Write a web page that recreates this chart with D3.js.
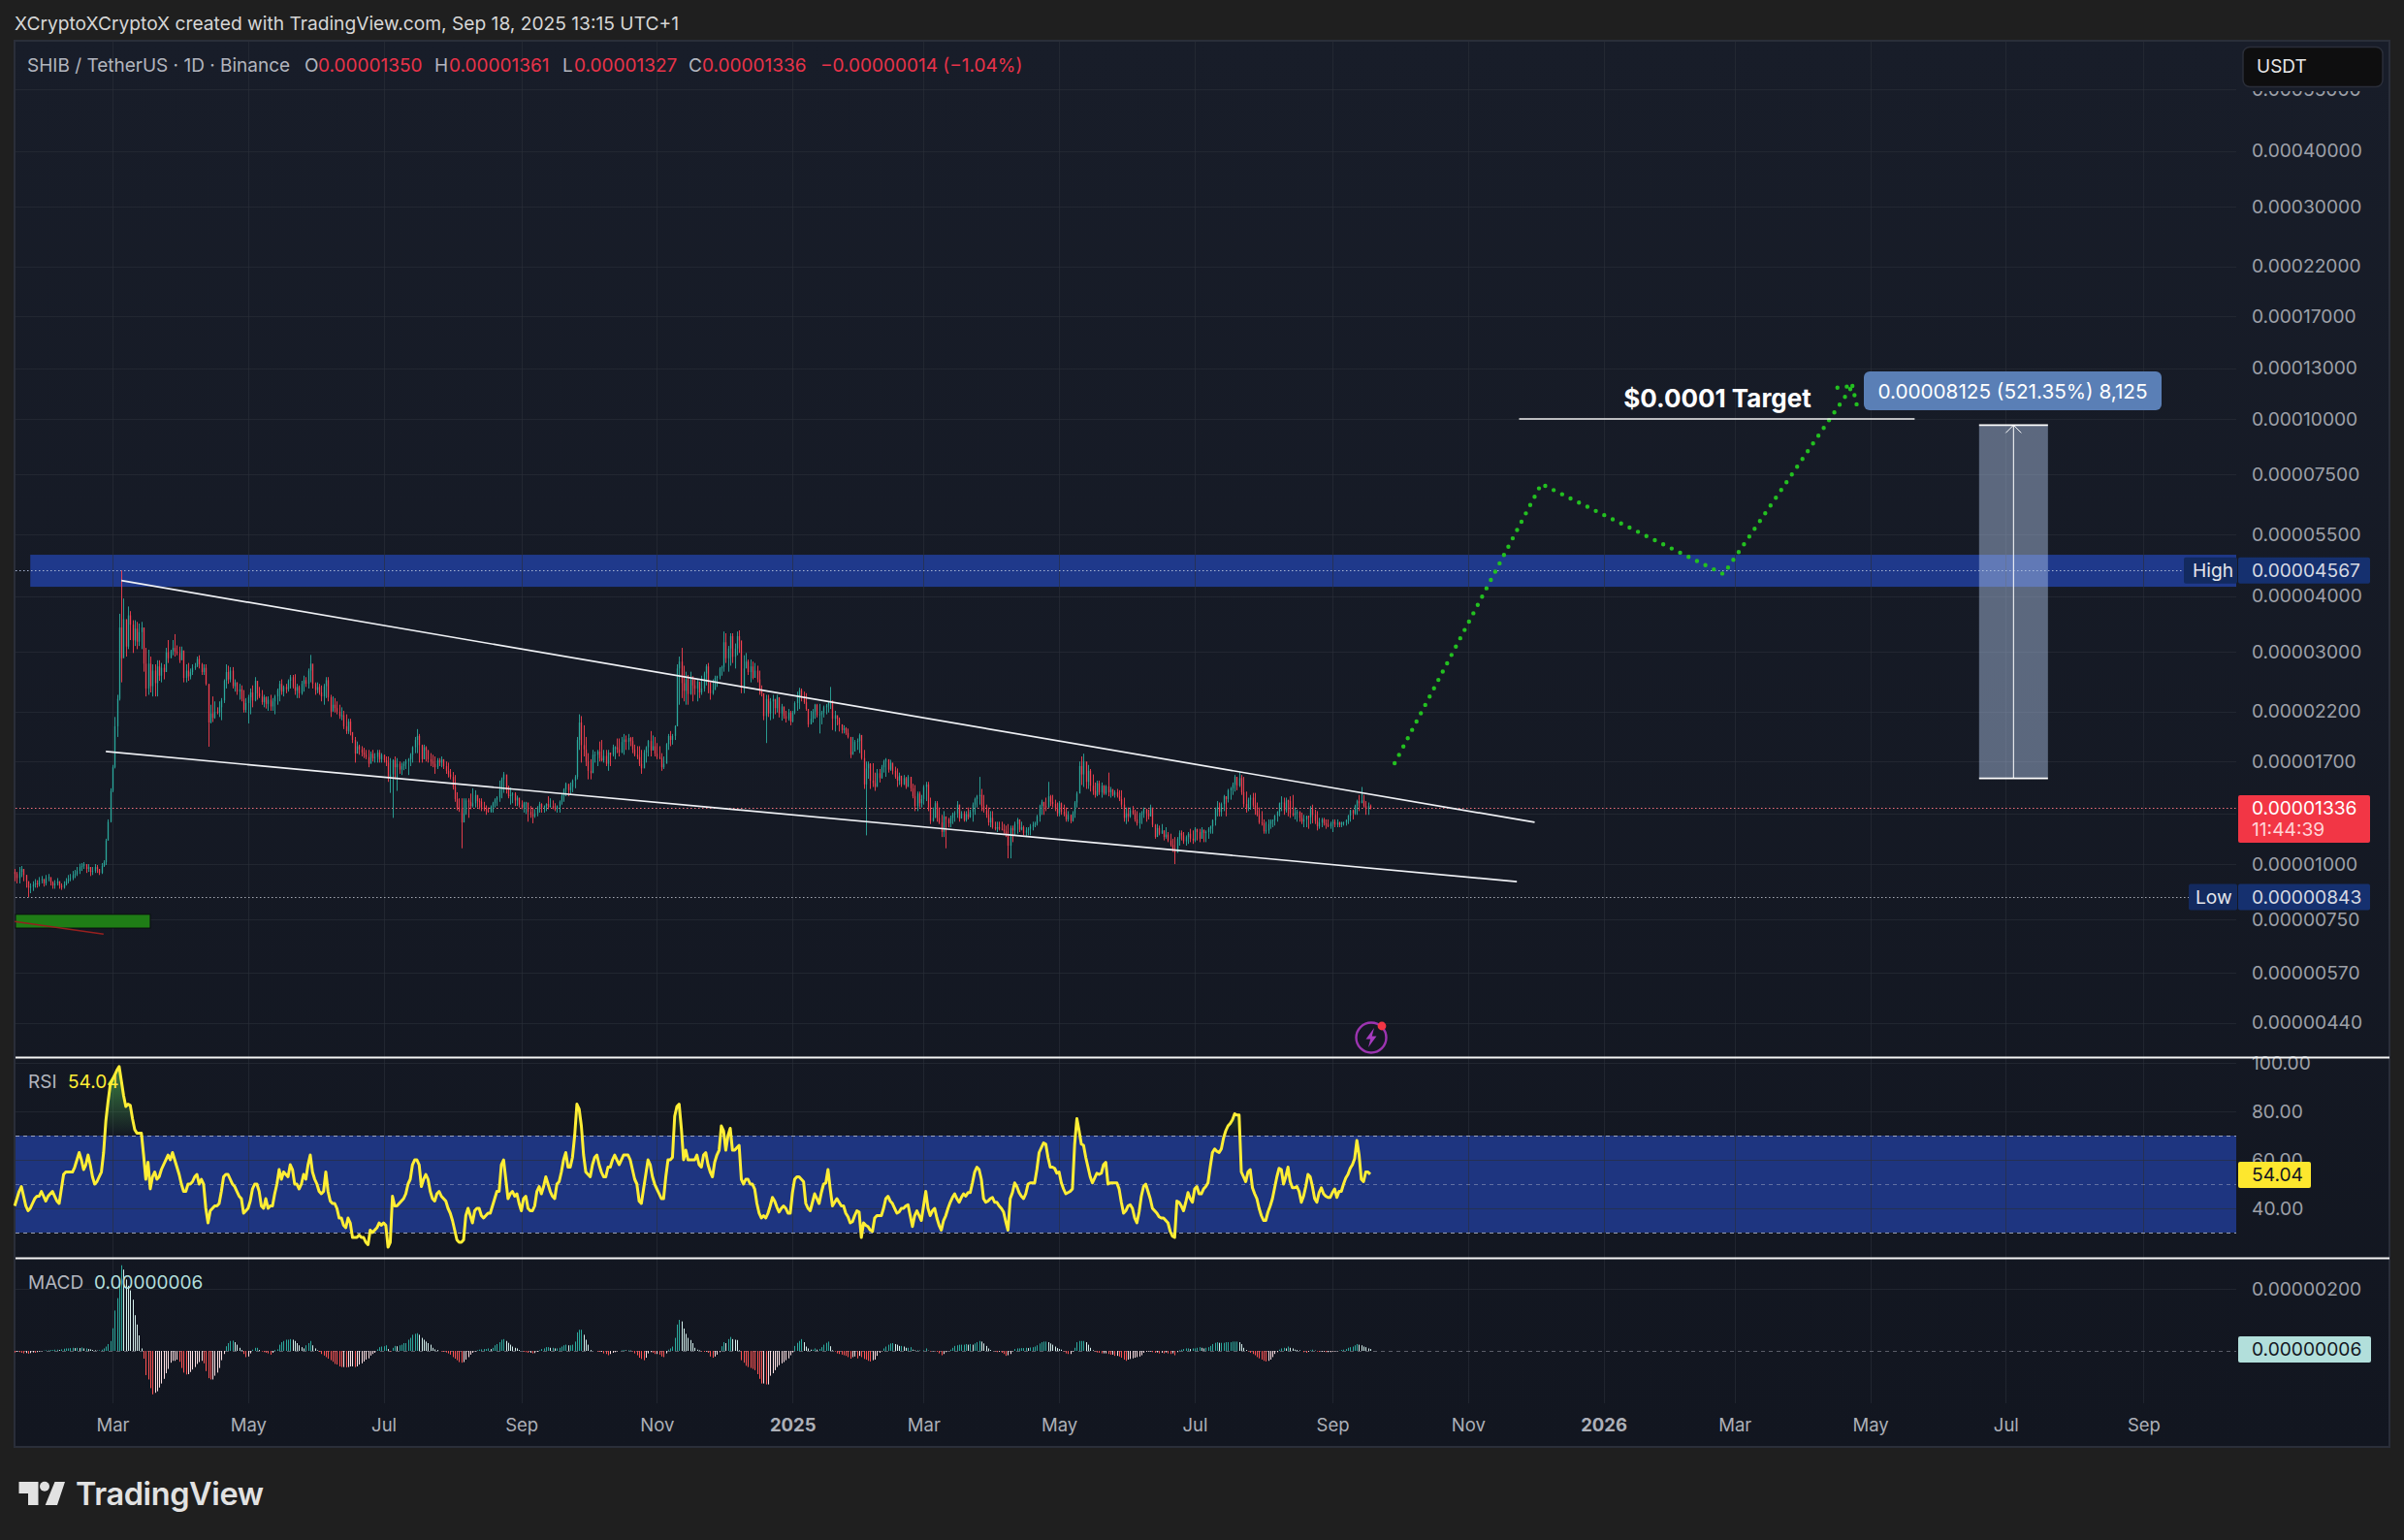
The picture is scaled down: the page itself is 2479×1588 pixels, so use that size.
<!DOCTYPE html>
<html>
<head>
<meta charset="utf-8">
<title>SHIB / TetherUS 1D</title>
<script src="https://cdn.jsdelivr.net/npm/d3@7"></script>
<style>
  html, body { margin: 0; background: #1f1f1f; }
  svg { display: block; font-family: Inter, "Noto Sans", sans-serif; }
</style>
</head>
<body>
<div id="chart"></div>
<script>
// Prices are in units of 0.00000001 USDT. One entry per daily bar, from 2024-01-17.
const firstDay = '2024-01-17';
const firstOpen = 960;

const highs = [
  975,960,985,990,965,945,915,905,915,925,
  920,935,940,925,945,950,930,915,920,930,
  915,905,915,930,945,950,965,970,985,1002,
  1005,1010,995,1000,985,985,1000,995,975,1005,
  1020,1140,1260,1480,1670,2140,2400,3650,4567,3950,
  3470,3790,3700,3530,3530,3500,3470,3500,3300,3060,
  3030,2925,2810,2810,2870,2870,2830,2810,3060,3186,
  3030,3186,3285,3100,3080,3080,2850,2810,2830,2750,
  2810,2830,2925,2945,2830,2810,2810,2520,2280,2380,
  2320,2250,2320,2360,2600,2810,2790,2770,2770,2600,
  2560,2540,2520,2460,2360,2400,2480,2520,2630,2560,
  2500,2460,2400,2380,2380,2400,2360,2400,2480,2580,
  2600,2520,2540,2600,2660,2660,2670,2540,2520,2580,
  2650,2630,2750,2950,2650,2560,2560,2540,2520,2540,
  2630,2630,2400,2380,2360,2320,2280,2250,2210,2170,
  2120,2120,1960,1930,1885,1855,1840,1825,1805,1805,
  1790,1805,1775,1805,1805,1775,1760,1745,1745,1730,
  1720,1745,1730,1700,1690,1700,1720,1730,1775,1840,
  1930,2010,1960,1855,1855,1840,1805,1775,1760,1745,
  1730,1730,1745,1720,1700,1690,1635,1610,1585,1450,
  1405,1405,1405,1405,1405,1440,1480,1465,1410,1405,
  1405,1380,1355,1340,1355,1380,1405,1420,1540,1565,
  1610,1550,1500,1485,1450,1450,1425,1405,1390,1380,
  1380,1370,1350,1340,1328,1350,1380,1370,1355,1370,
  1420,1405,1390,1370,1355,1390,1440,1480,1525,1500,
  1525,1550,1585,1930,2170,2150,2050,1930,1775,1720,
  1805,1790,1805,1885,1900,1805,1805,1805,1775,1855,
  1840,1915,1915,1930,1960,1945,1960,1930,1930,1855,
  1840,1840,1805,1805,1840,1900,1990,1945,1930,1870,
  1840,1775,1745,1870,1960,1990,1960,2050,2810,2925,
  3060,2790,2705,2660,2705,2630,2600,2600,2560,2650,
  2705,2810,2830,2560,2600,2650,2650,2770,2790,3330,
  3300,3090,3300,3300,3130,3330,3350,2980,2945,2980,
  2880,2880,2850,2830,2790,2720,2520,2400,2400,2400,
  2360,2400,2340,2400,2290,2290,2250,2210,2230,2210,
  2210,2320,2440,2490,2480,2440,2420,2230,2210,2230,
  2290,2290,2290,2210,2270,2290,2320,2500,2250,2210,
  2135,2135,2060,2050,2030,2015,1930,1930,1900,1915,
  1965,1865,1805,1700,1700,1685,1685,1605,1635,1635,
  1670,1715,1730,1715,1715,1685,1655,1640,1605,1570,
  1585,1570,1585,1570,1515,1505,1455,1455,1430,1505,
  1530,1530,1410,1340,1385,1385,1340,1290,1315,1270,
  1270,1285,1305,1315,1385,1360,1315,1315,1315,1340,
  1325,1375,1410,1430,1570,1475,1430,1360,1340,1315,
  1315,1245,1245,1245,1245,1230,1220,1230,1220,1220,
  1245,1270,1260,1245,1220,1210,1210,1230,1245,1245,
  1290,1360,1395,1360,1410,1530,1430,1430,1395,1375,
  1385,1375,1360,1340,1315,1290,1315,1385,1455,1700,
  1745,1770,1685,1670,1635,1590,1525,1540,1540,1525,
  1505,1505,1605,1490,1475,1465,1475,1465,1465,1410,
  1340,1340,1340,1350,1325,1315,1305,1315,1340,1315,
  1325,1360,1305,1230,1230,1220,1230,1190,1210,1180,
  1170,1140,1150,1150,1190,1190,1180,1160,1180,1200,
  1190,1210,1190,1200,1210,1190,1190,1210,1220,1260,
  1340,1385,1375,1375,1430,1420,1475,1490,1525,1585,
  1570,1610,1585,1570,1455,1410,1430,1445,1445,1375,
  1340,1315,1260,1245,1260,1260,1260,1290,1315,1375,
  1420,1410,1410,1395,1420,1430,1340,1325,1315,1305,
  1290,1285,1285,1350,1360,1325,1315,1270,1270,1270,
  1260,1260,1245,1260,1260,1260,1245,1245,1245,1260,
  1290,1325,1325,1360,1395,1430,1490,1430,1385,1375,
  1361,
];

const lows = [
  915,905,905,935,915,885,843,860,870,885,
  885,890,905,890,895,915,895,880,880,895,
  880,875,880,895,905,915,920,930,940,950,
  965,975,955,960,940,945,955,955,945,950,
  985,995,1130,1240,1450,1640,1930,2330,2560,3040,
  2925,3040,3186,2980,3090,3040,3090,3040,2705,2380,
  2400,2430,2380,2380,2380,2580,2560,2600,2720,2830,
  2925,2945,2925,2945,2830,2880,2560,2560,2580,2600,
  2660,2730,2770,2750,2660,2660,2520,1835,2070,2085,
  2120,2170,2140,2105,2300,2480,2540,2560,2480,2440,
  2400,2340,2320,2190,2190,2070,2170,2250,2320,2340,
  2360,2280,2250,2235,2210,2210,2210,2170,2280,2320,
  2400,2380,2420,2440,2480,2480,2400,2360,2360,2400,
  2440,2500,2480,2560,2480,2400,2420,2400,2320,2280,
  2360,2320,2140,2250,2190,2170,2120,2105,2010,1960,
  1960,1945,1870,1690,1775,1760,1745,1730,1720,1650,
  1720,1700,1690,1690,1690,1690,1690,1660,1530,1445,
  1270,1550,1460,1595,1585,1625,1635,1585,1660,1690,
  1775,1775,1690,1690,1720,1700,1690,1660,1650,1595,
  1635,1660,1650,1635,1595,1565,1550,1470,1380,1320,
  1310,1085,1270,1290,1270,1328,1340,1340,1340,1328,
  1315,1315,1290,1305,1305,1305,1340,1350,1380,1405,
  1445,1440,1405,1360,1370,1350,1350,1340,1328,1305,
  1295,1245,1270,1235,1270,1280,1305,1305,1305,1315,
  1328,1340,1328,1315,1305,1305,1360,1380,1420,1420,
  1430,1450,1480,1550,1805,1690,1745,1660,1550,1550,
  1610,1690,1660,1700,1700,1690,1660,1620,1660,1745,
  1720,1775,1745,1775,1760,1805,1805,1840,1775,1745,
  1720,1660,1595,1690,1690,1745,1745,1805,1745,1720,
  1720,1620,1635,1720,1805,1840,1855,1900,2040,2280,
  2360,2320,2280,2280,2400,2320,2400,2320,2360,2400,
  2440,2520,2420,2340,2400,2520,2500,2600,2650,2705,
  2830,2705,2790,2830,2750,2945,2980,2420,2420,2790,
  2660,2560,2600,2680,2560,2400,2380,2105,1870,2140,
  2105,2120,2170,2190,2135,2100,2120,2080,2100,2050,
  2080,2170,2210,2230,2320,2290,2210,2030,2100,2080,
  2120,2135,1965,2060,2135,2170,2190,2230,2000,1985,
  2050,1985,1965,1965,1950,1915,1730,1775,1790,1805,
  1775,1715,1475,1160,1555,1475,1490,1460,1505,1525,
  1555,1605,1570,1605,1620,1590,1555,1490,1505,1490,
  1505,1475,1505,1455,1405,1315,1315,1340,1340,1360,
  1385,1315,1230,1245,1270,1245,1230,1150,1150,1085,
  1210,1210,1230,1245,1270,1245,1270,1245,1245,1260,
  1270,1245,1290,1340,1360,1315,1305,1270,1220,1210,
  1200,1190,1180,1190,1190,1170,1150,1030,1030,1120,
  1160,1170,1180,1190,1160,1150,1160,1160,1190,1210,
  1220,1245,1290,1290,1315,1340,1350,1340,1315,1280,
  1280,1290,1280,1245,1245,1235,1245,1270,1340,1475,
  1505,1490,1475,1475,1455,1430,1410,1420,1430,1410,
  1430,1430,1420,1410,1420,1410,1410,1385,1340,1245,
  1230,1245,1270,1290,1245,1220,1200,1230,1270,1245,
  1260,1280,1210,1140,1170,1160,1170,1130,1140,1120,
  1095,1065,1000,1075,1100,1130,1110,1100,1110,1120,
  1110,1120,1130,1120,1140,1120,1120,1140,1170,1170,
  1220,1280,1280,1280,1315,1280,1375,1395,1430,1455,
  1465,1490,1430,1340,1305,1315,1325,1340,1290,1280,
  1230,1220,1170,1170,1170,1200,1210,1220,1245,1280,
  1315,1290,1305,1280,1270,1280,1260,1245,1245,1230,
  1210,1210,1200,1230,1235,1230,1190,1200,1210,1220,
  1200,1210,1200,1180,1210,1210,1210,1210,1220,1220,
  1230,1245,1260,1290,1290,1315,1375,1340,1290,1290,
  1327,
];

const closes = [
  950,930,960,975,945,915,885,890,900,905,
  900,920,925,905,930,935,910,895,905,915,
  895,885,900,915,925,930,945,950,965,985,
  990,1000,975,985,960,965,985,975,955,990,
  1010,1130,1245,1460,1650,2040,2350,3400,2900,3550,
  3080,3620,3450,3180,3380,3160,3320,3400,2820,2480,
  2820,2510,2720,2550,2780,2650,2760,2700,2990,2900,
  3010,3060,3000,2980,2870,3020,2620,2720,2640,2700,
  2760,2780,2890,2810,2700,2760,2540,2080,2180,2130,
  2200,2190,2250,2330,2580,2700,2600,2720,2510,2560,
  2440,2470,2350,2220,2300,2370,2430,2330,2580,2420,
  2380,2310,2370,2290,2340,2260,2320,2380,2460,2540,
  2440,2500,2470,2580,2630,2500,2450,2500,2420,2540,
  2590,2540,2720,2820,2540,2460,2500,2430,2380,2510,
  2590,2370,2200,2280,2240,2200,2150,2160,2040,1990,
  2090,1980,1900,1770,1840,1810,1780,1760,1740,1680,
  1770,1730,1740,1780,1720,1760,1710,1690,1570,1590,
  1710,1650,1680,1630,1660,1680,1700,1720,1760,1830,
  1900,1940,1850,1720,1830,1800,1720,1700,1680,1650,
  1710,1690,1720,1660,1620,1590,1570,1490,1400,1340,
  1330,1240,1300,1390,1380,1350,1370,1430,1385,1380,
  1340,1330,1320,1310,1345,1370,1395,1410,1470,1550,
  1590,1470,1420,1430,1440,1390,1410,1360,1340,1370,
  1375,1310,1290,1280,1300,1340,1365,1340,1350,1365,
  1345,1350,1335,1330,1350,1380,1425,1470,1515,1465,
  1490,1540,1570,1900,2080,1850,1810,1700,1620,1600,
  1760,1760,1790,1730,1710,1750,1680,1780,1760,1830,
  1830,1810,1780,1880,1905,1880,1920,1890,1810,1760,
  1740,1680,1640,1780,1830,1890,1800,1840,1770,1740,
  1730,1650,1680,1860,1940,1900,1940,2040,2750,2850,
  2550,2450,2600,2410,2640,2520,2480,2570,2430,2480,
  2680,2780,2560,2420,2460,2620,2640,2750,2770,3150,
  2900,3050,3250,2920,3050,3250,3180,2500,2750,2850,
  2700,2780,2620,2720,2600,2450,2420,2150,2350,2180,
  2320,2350,2240,2370,2180,2260,2150,2120,2190,2090,
  2190,2300,2380,2460,2380,2310,2230,2060,2120,2200,
  2280,2160,2170,2190,2250,2270,2310,2330,2120,2160,
  2120,2060,2000,2020,1970,1930,1760,1790,1880,1890,
  1950,1730,1510,1640,1680,1540,1520,1490,1600,1560,
  1650,1700,1720,1630,1690,1620,1570,1540,1580,1510,
  1560,1490,1570,1480,1420,1350,1440,1370,1400,1490,
  1510,1340,1250,1270,1370,1270,1240,1180,1280,1260,
  1235,1270,1295,1300,1360,1265,1300,1255,1295,1275,
  1310,1360,1400,1420,1430,1350,1320,1290,1240,1270,
  1210,1200,1210,1200,1195,1185,1165,1100,1205,1190,
  1230,1260,1195,1210,1175,1190,1200,1215,1225,1235,
  1280,1350,1380,1350,1340,1420,1380,1365,1330,1300,
  1370,1310,1295,1260,1290,1250,1300,1375,1440,1660,
  1590,1700,1530,1620,1500,1460,1430,1520,1450,1500,
  1440,1495,1450,1470,1430,1450,1420,1400,1360,1270,
  1300,1280,1320,1300,1260,1235,1290,1300,1330,1300,
  1280,1340,1225,1150,1205,1170,1190,1150,1165,1130,
  1105,1080,1060,1140,1175,1160,1125,1150,1170,1140,
  1130,1200,1180,1140,1195,1175,1180,1200,1215,1255,
  1330,1340,1310,1365,1420,1400,1465,1480,1510,1570,
  1500,1560,1450,1365,1330,1395,1410,1355,1320,1290,
  1240,1235,1185,1190,1230,1250,1255,1285,1310,1370,
  1375,1320,1390,1385,1300,1290,1300,1310,1270,1245,
  1260,1280,1275,1330,1290,1250,1215,1240,1260,1235,
  1225,1215,1235,1245,1225,1240,1225,1240,1240,1255,
  1285,1320,1300,1350,1385,1370,1390,1350,1330,1350,
  1336,
];

const rsiValues = [
  41,44,47,49,45,41,39,40,42,44,
  45,45,47,45,43,45,46,47,45,43,
  42,48,54,55,55,55,55,57,60,63,
  60,56,58,62,58,53,50,51,53,55,
  63,76,84,91,93,95,97,98.5,92.5,86.5,
  82,83,82.5,77,72.5,71,71,71,62,52,
  59,48,53,55,52,53,56,58,60,62,
  60,63,60,57,54,50,47,47,50,50,
  51,53,54,50,52,50,40,34,39,40,
  41,41,42,47,53,54,54,52,50,49,
  47,45,44,38,39,40,43,48,50,50,
  47,41,40,44,40,41,41,46,50,56,
  52,55,54,53,58,56,50,50,48,50,
  54,52,58,62,55,52,50,47,46,47,
  55,47,43,42,42,40,36,36,33,32,
  36,34,28,28,28,29,28,28,26,25,
  31,30,31,32,34,33,34,33,24,26,
  45,41,41,42,43,44,46,50,52,58,
  60,60,58,49,52,54,52,47,44,43,
  46,47,45,44,43,40,38,35,31,27,
  26,26,27,37,40,37,34,39,40,40,
  37,36,37,38,38,41,44,47,47,58,
  60,52,44,46,47,45,46,42,39,44,
  45,40,39,39,41,47,49,46,49,53,
  50,47,45,44,50,51,55,60,63,57,
  57,61,70,83,81,74,62,55,54,53,
  58,61,62,58,55,53,53,57,57,60,
  62,60,58,60,62,62,62,60,56,52,
  50,43,42,48,54,60,58,53,50,48,
  46,44,44,53,60,60,61,78,82,83,
  73,60,64,60,60,60,60,62,58,57,
  62,63,58,55,53,59,62,64,74,72,
  64,70,73,64,64,65,66,52,50,52,
  52,50,50,48,42,38,36,37,36,38,
  41,44.5,43,40.5,38.5,40,41,40,38,38,
  46.5,52,53,53,52,51,42,40,39,42.5,
  46,44,42,46.5,50,50.5,56,48,41,42.5,
  44,42.5,41,41,38,36.5,34,34.5,37,39,
  38.5,28,34,33,32.5,31,30.5,36,37,37,
  37,40,44,45,43,42,40,38,38.5,40,
  40,41,41.5,37,32.5,37,39,37,35,41,
  47,40,37,39,40,36,33,31,35,37,
  40,42.5,44.5,46,44,42.5,44.5,46,45,46.5,
  46.5,50.5,55,57,56,52,44,42.5,43,44,
  44.5,42.5,42.5,41,40,38.5,34.5,31,44,46.5,
  50.5,49,46.5,45,44,46,50,50.5,50.5,50.5,
  56,63,65,67,66.5,61,57,57,56.5,54.5,
  55,50.5,48,46,46.5,47,48,66.5,77,72,
  66.5,66,61,57,53,50.5,52.5,54.5,54,54.5,
  58,59,50,50.5,50.5,50.5,50.5,48,42.5,38,
  39,41,41.5,40,36,34,38.5,45,49,50,
  47,44,40,39,38,36.5,36,36,35,34,
  30.5,28.5,28,43,42.5,41,39,42.5,46.5,44,
  42.5,48,49,46,46,48,49,50.5,57,63,
  64.5,63.5,63,64.5,69,72,74,75,76.5,79,
  78.5,78.5,55,53,51,55,56,48.5,46,44,
  40,37,35,35,38.5,41,44,48.5,53,56.5,
  56,50,53,57,51,48.5,48.5,49,47,42.5,
  45,49,54,53,49,44,42.5,46.5,48.5,46,
  45,44.5,44.5,46.5,48,44.5,47,47,50,52.5,
  54,56.5,58,60.5,68,62,52,51,55,55,
  54.04,
];

const macdValues = [
  -5,-3,-4,-6,-8,-7,-9,-7,-5,-6,
  -4,-2,-1,1,2,2,3,3,4,4,
  3,5,7,8,8,9,10,9,10,9,
  11,8,8,6,5,3,2,1,2,4,
  8,14,22,32,73,130,170,230,276,262,
  230,210,195,165,115,85,50,8,-25,-78,
  -92,-120,-140,-135,-130,-118,-105,-90,-72,-58,
  -38,-32,-32,-28,-35,-55,-70,-76,-75,-68,
  -60,-52,-42,-36,-32,-40,-65,-88,-92,-92,
  -80,-70,-55,-30,-10,15,25,32,33,28,
  20,10,3,-10,-20,-18,-8,4,10,10,
  3,-2,-4,-6,-8,-12,-6,3,5,20,
  28,32,36,36,38,36,32,25,18,12,
  8,18,25,32,18,8,2,-3,-10,-15,
  -20,-25,-30,-35,-42,-44,-50,-52,-52,-53,
  -52,-50,-50,-52,-50,-44,-40,-34,-28,-24,
  -15,-10,-6,5,12,14,15,18,6,-2,
  10,16,15,18,20,25,25,36,42,52,
  55,57,52,42,36,30,25,20,10,5,
  3,0,-2,-3,-5,-8,-12,-20,-25,-30,
  -36,-38,-36,-28,-20,-12,-6,-2,2,4,
  5,6,6,8,6,10,18,22,28,36,
  38,32,26,20,14,10,8,3,0,-3,
  -4,-6,-6,-8,-7,-3,2,6,8,12,
  12,10,10,8,8,10,14,18,20,18,
  18,20,30,60,68,68,52,36,20,3,
  0,0,-2,-3,-3,-8,-10,-14,-10,-6,
  -4,-2,0,2,3,2,2,1,-2,-8,
  -14,-22,-26,-30,-22,-8,-4,-6,-10,-10,
  -12,-18,-20,-8,4,8,14,42,85,100,
  95,72,55,42,35,25,10,4,2,-2,
  -3,-2,-6,-18,-22,-18,-12,-4,15,28,
  25,38,45,38,36,35,2,-30,-38,-48,
  -52,-55,-58,-62,-75,-90,-105,-105,-108,-108,
  -80,-72,-62,-52,-46,-40,-36,-30,-24,-14,
  -5,16,26,32,38,28,14,8,4,4,
  8,4,6,12,20,26,30,15,2,-2,
  -8,-10,-12,-14,-16,-20,-25,-20,-18,-24,
  -16,-20,-26,-28,-32,-34,-30,-28,-16,-6,
  -2,8,14,20,24,25,22,20,16,16,
  14,10,10,12,4,2,2,1,0,2,
  8,1,-2,-1,-1,-3,-8,-14,-10,-4,
  0,4,10,16,18,20,20,20,22,20,
  22,20,24,28,32,30,24,16,8,3,
  0,-2,-4,-3,-6,-10,-16,-14,-10,-2,
  6,8,8,9,9,10,9,11,12,14,
  18,24,28,30,30,28,24,20,14,9,
  6,4,-2,-8,-10,-10,-2,10,28,32,
  32,32,28,20,10,2,-2,-5,-6,-8,
  -8,-8,-10,-12,-12,-16,-16,-18,-22,-28,
  -32,-28,-26,-24,-22,-20,-18,-14,-6,-3,
  -2,-2,-4,-6,-5,-8,-6,-8,-5,-8,
  -10,-8,-14,-4,2,4,6,8,8,6,
  8,8,10,12,10,8,10,12,16,22,
  26,28,26,26,26,28,28,28,30,30,
  30,28,22,10,3,-2,-6,-10,-14,-20,
  -24,-28,-32,-34,-32,-28,-20,-10,-4,4,
  8,10,8,14,10,8,4,3,2,0,
  -4,-6,-3,2,4,1,-2,-3,-3,-3,
  -4,-4,-4,-3,-2,-1,1,3,4,6,
  10,12,14,18,22,20,18,14,12,8,
  6,
];

// 1300 has a grid line, but its label is hidden behind the last-price tag
const priceTicks = [55000, 40000, 30000, 22000, 17000, 13000, 10000, 7500, 5500, 4000, 3000, 2200, 1700, 1000, 750, 570, 440];
const priceGridOnly = [1300];
const rsiTicks = [100, 80, 60, 40];
const macdTicks = [200, 0];
const timeTicks = ['2024-03-01', '2024-05-01', '2024-07-01', '2024-09-01', '2024-11-01', '2025-01-01', '2025-03-01', '2025-05-01', '2025-07-01', '2025-09-01', '2025-11-01', '2026-01-01', '2026-03-01', '2026-05-01', '2026-07-01', '2026-09-01'];

const lastPrice = 1336;
const allHigh = 4567;
const allLow = 843;
const zoneTop = 4953;
const zoneBottom = 4197;
const upperTrend = [['2024-03-05', 4334], ['2025-12-01', 1241]];
const lowerTrend = [['2024-02-27', 1790], ['2025-11-23', 913]];
const forecast = [['2025-09-29', 1685], ['2025-12-04', 7145], ['2026-02-24', 4480], ['2026-04-23', 11860], ['2026-04-15', 11740]];
const forecastTail = [['2026-04-23', 11860], ['2026-04-25', 10727]];
const targetLine = [['2025-11-24', 10000], ['2026-05-21', 10000]];
const measureDates = ['2026-06-19', '2026-07-20'];
const measureFrom = 1558;
const measureTo = 9683;
const greenBox = { dates: ['2024-01-17', '2024-03-18'], prices: [771, 718] };
const redSlope = [['2024-01-17', 743], ['2024-02-26', 696]];

const legendParts = [
  ['SHIB / TetherUS · 1D · Binance', 28, 'label'], ['O', 314, 'label'], ['0.00001350', 328, 'value'],
  ['H', 448, 'label'], ['0.00001361', 463, 'value'], ['L', 580, 'label'], ['0.00001327', 592, 'value'],
  ['C', 710, 'label'], ['0.00001336', 724, 'value'], ['−0.00000014 (−1.04%)', 846, 'value'],
];

const W = 2479, H = 1588;
const paneLeft = 16, axisLeft = 2306, frameRight = 2463, frameTop = 43, frameBottom = 1491;
const gridBottom = 1447;
const axisFont = 19.2;
const day = (s) => new Date(`${s}T00:00:00Z`);
const fmtP = (v) => (v * 1e-8).toFixed(8);

const x = d3.scaleUtc().domain([day('2024-03-01'), day('2025-09-01')]).range([116, 1374]);
const y = d3.scaleLog().domain([10000, 1000]).range([432, 891]);
const yRsi = d3.scaleLinear().domain([100, 40]).range([1096, 1246]);
const yMacd = d3.scaleLinear().domain([200, 0]).range([1329, 1393]);
const snap = (v) => Math.round(v) + 0.5;

const bars = closes.map((c, i) => {
  const date = d3.utcDay.offset(day(firstDay), i);
  return { date, close: c, open: i ? closes[i - 1] : firstOpen, high: highs[i], low: lows[i], rsi: rsiValues[i], macd: macdValues[i], prev: i ? macdValues[i - 1] : 0 };
});

const svg = d3.select('#chart').append('svg').attr('width', W).attr('height', H);
const defs = svg.append('defs');

const bg = defs.append('linearGradient').attr('id', 'paneBg').attr('x1', 0).attr('x2', 0).attr('y1', 0).attr('y2', 1);
bg.append('stop').attr('offset', 0).attr('stop-color', '#181d29');
bg.append('stop').attr('offset', 1).attr('stop-color', '#121620');

const overbought = defs.append('linearGradient').attr('id', 'overbought').attr('gradientUnits', 'userSpaceOnUse')
  .attr('x1', 0).attr('x2', 0).attr('y1', yRsi(100)).attr('y2', yRsi(70));
overbought.append('stop').attr('offset', 0).attr('stop-color', '#4caf50').attr('stop-opacity', 0.75);
overbought.append('stop').attr('offset', 1).attr('stop-color', '#4caf50').attr('stop-opacity', 0);

svg.append('rect').attr('x', paneLeft - 1).attr('y', frameTop - 1).attr('width', frameRight - paneLeft + 2).attr('height', frameBottom - frameTop + 2)
  .attr('fill', 'url(#paneBg)').attr('stroke', '#2a2e39').attr('stroke-width', 2);

// Header
svg.append('text').attr('x', 15).attr('y', 31).attr('fill', '#d6d6d6').attr('font-size', 19.2)
  .text('XCryptoXCryptoX created with TradingView.com, Sep 18, 2025 13:15 UTC+1');

// Zones sit under the grid, the grid shows faintly through them
svg.append('rect').attr('x', x(day('2024-01-24'))).attr('y', y(zoneTop)).attr('width', axisLeft - x(day('2024-01-24')))
  .attr('height', y(zoneBottom) - y(zoneTop)).attr('fill', '#1f398b');
svg.append('rect').attr('x', paneLeft).attr('y', yRsi(70)).attr('width', axisLeft - paneLeft)
  .attr('height', yRsi(30) - yRsi(70)).attr('fill', '#1e3580');

const grid = svg.append('g').attr('stroke', '#2a2e39').attr('stroke-opacity', 0.62).attr('stroke-width', 1);
grid.selectAll('.v').data(timeTicks).join('line').attr('class', 'v')
  .attr('x1', (d) => snap(x(day(d)))).attr('x2', (d) => snap(x(day(d))))
  .attr('y1', frameTop).attr('y2', gridBottom);
const hLines = [...priceTicks, ...priceGridOnly].map((d) => y(d)).concat(rsiTicks.map((d) => yRsi(d)), macdTicks.slice(0, 1).map((d) => yMacd(d)));
grid.selectAll('.h').data(hLines).join('line').attr('class', 'h')
  .attr('x1', paneLeft).attr('x2', axisLeft).attr('y1', snap).attr('y2', snap);

// Stats lines
const dotted = (val, color) => svg.append('line').attr('x1', paneLeft).attr('x2', axisLeft)
  .attr('y1', snap(y(val))).attr('y2', snap(y(val)))
  .attr('stroke', color).attr('stroke-width', 1).attr('stroke-dasharray', '1.5 2.5');
dotted(allHigh, '#a9b6d4');
dotted(allLow, '#a4a8b2');
dotted(lastPrice, '#f0707b');

// Small strategy box at far left
svg.append('rect').attr('x', paneLeft).attr('y', y(greenBox.prices[0]))
  .attr('width', x(day(greenBox.dates[1])) - paneLeft).attr('height', y(greenBox.prices[1]) - y(greenBox.prices[0]))
  .attr('fill', '#1f7d16').attr('stroke', '#0a0c10').attr('stroke-width', 1);
const ptLine = d3.line().x((d) => x(day(d[0]))).y((d) => y(d[1]));
svg.append('path').attr('d', ptLine(redSlope)).attr('fill', 'none').attr('stroke', '#96201f').attr('stroke-width', 1.5);

// Candles: at this zoom a bar is one pixel wide, so wick and body share a column
const candleColor = (d) => (d.close >= d.open ? '#2ba89c' : '#f5404f');
const candles = svg.append('g');
candles.selectAll('line').data(bars).join('line')
  .attr('x1', (d) => snap(x(d.date))).attr('x2', (d) => snap(x(d.date)))
  .attr('y1', (d) => y(d.high)).attr('y2', (d) => y(d.low))
  .attr('stroke', candleColor).attr('stroke-opacity', 0.9).attr('stroke-width', 1);
candles.selectAll('rect').data(bars).join('rect')
  .attr('x', (d) => snap(x(d.date)) - 0.65).attr('width', 1.3)
  .attr('y', (d) => Math.min(y(d.open), y(d.close)))
  .attr('height', (d) => Math.max(1, Math.abs(y(d.open) - y(d.close))))
  .attr('fill', candleColor);

// Drawings
const trend = (pts) => svg.append('path').attr('d', ptLine(pts)).attr('fill', 'none').attr('stroke', '#eef0f4').attr('stroke-width', 1.7);
trend(upperTrend);
trend(lowerTrend);

const dots = (pts) => svg.append('path').attr('d', ptLine(pts)).attr('fill', 'none')
  .attr('stroke', '#23c020').attr('stroke-width', 4.4).attr('stroke-linecap', 'round').attr('stroke-dasharray', '0 9.7');
dots(forecast);
dots(forecastTail);

svg.append('path').attr('d', ptLine(targetLine)).attr('stroke', '#f2f2f2').attr('stroke-width', 1.5).attr('fill', 'none');
svg.append('text').attr('x', 1771).attr('y', 420).attr('text-anchor', 'middle').attr('fill', '#ffffff')
  .attr('font-size', 26).attr('font-weight', 700).text('$0.0001 Target');

// Price range measure
const mx0 = x(day(measureDates[0])), mx1 = x(day(measureDates[1])), mxc = (mx0 + mx1) / 2;
svg.append('rect').attr('x', mx0).attr('y', y(measureTo)).attr('width', mx1 - mx0).attr('height', y(measureFrom) - y(measureTo))
  .attr('fill', 'rgb(178,200,235)').attr('fill-opacity', 0.45);
[measureTo, measureFrom].forEach((v) => svg.append('line').attr('x1', mx0).attr('x2', mx1).attr('y1', y(v)).attr('y2', y(v)).attr('stroke', '#fff').attr('stroke-width', 1.6));
svg.append('line').attr('x1', mxc).attr('x2', mxc).attr('y1', y(measureFrom)).attr('y2', y(measureTo)).attr('stroke', '#fff').attr('stroke-width', 1);
svg.append('path').attr('d', `M${mxc - 8},${y(measureTo) + 8}L${mxc},${y(measureTo)}L${mxc + 8},${y(measureTo) + 8}`)
  .attr('fill', 'none').attr('stroke', '#fff').attr('stroke-width', 1);
svg.append('rect').attr('x', 1922).attr('y', 383).attr('width', 307).attr('height', 40).attr('rx', 6).attr('fill', '#5a7fb6');
svg.append('text').attr('x', 2075.5).attr('y', 410.5).attr('text-anchor', 'middle').attr('fill', '#fff').attr('font-size', 20.7)
  .text('0.00008125 (521.35%) 8,125');

// Lightning badge
const bolt = svg.append('g').attr('transform', 'translate(1414,1070)');
bolt.append('circle').attr('r', 15.5).attr('fill', 'none').attr('stroke', '#9c34b0').attr('stroke-width', 2.4);
bolt.append('path').attr('d', 'M3,-10L-5.5,1.5L-0.8,1.5L-3,10L5.5,-1.5L0.8,-1.5Z').attr('fill', '#a63bc0');
bolt.append('circle').attr('cx', 11).attr('cy', -12).attr('r', 4.4).attr('fill', '#f23645');

// RSI
const rsiPane = svg.append('g');
rsiPane.append('path').datum(bars)
  .attr('d', d3.area().x((d) => x(d.date)).y0(yRsi(70)).y1((d) => yRsi(Math.max(d.rsi, 70))))
  .attr('fill', 'url(#overbought)');
[70, 50, 30].forEach((v) => rsiPane.append('line').attr('x1', paneLeft).attr('x2', axisLeft)
  .attr('y1', snap(yRsi(v))).attr('y2', snap(yRsi(v)))
  .attr('stroke', '#c5cad6').attr('stroke-opacity', v === 50 ? 0.4 : 0.75).attr('stroke-dasharray', '4 4'));
rsiPane.append('path').datum(bars)
  .attr('d', d3.line().x((d) => x(d.date)).y((d) => yRsi(d.rsi)))
  .attr('fill', 'none').attr('stroke', '#ffee35').attr('stroke-width', 3).attr('stroke-linejoin', 'round');

// MACD histogram
svg.append('line').attr('x1', paneLeft).attr('x2', axisLeft).attr('y1', snap(yMacd(0))).attr('y2', snap(yMacd(0)))
  .attr('stroke', '#787b86').attr('stroke-opacity', 0.7).attr('stroke-dasharray', '4 4');
const macdColor = (d) => (d.macd >= 0
  ? (d.macd >= d.prev ? '#2ba89c' : '#d4efec')
  : (d.macd < d.prev ? '#ff5252' : '#ffe0e2'));
svg.append('g').selectAll('rect').data(bars).join('rect')
  .attr('x', (d) => Math.round(x(d.date))).attr('width', 1)
  .attr('y', (d) => Math.min(yMacd(d.macd), yMacd(0)))
  .attr('height', (d) => Math.abs(yMacd(d.macd) - yMacd(0)))
  .attr('fill', macdColor);

// Axes
const axisStyle = (g, color, size) => {
  g.select('.domain').remove();
  g.selectAll('.tick line').remove();
  g.selectAll('.tick text').attr('fill', color).attr('font-size', size).attr('font-family', 'Inter, sans-serif');
};
svg.append('g').attr('transform', `translate(${axisLeft},0)`)
  .call(d3.axisRight(y).tickValues(priceTicks).tickFormat(fmtP).tickSize(0).tickPadding(16))
  .call(axisStyle, '#9da0a8', axisFont);
svg.append('g').attr('transform', `translate(${axisLeft},0)`)
  .call(d3.axisRight(yRsi).tickValues(rsiTicks).tickFormat((d) => d.toFixed(2)).tickSize(0).tickPadding(16))
  .call(axisStyle, '#9da0a8', axisFont);
svg.append('g').attr('transform', `translate(${axisLeft},0)`)
  .call(d3.axisRight(yMacd).tickValues([200]).tickFormat(fmtP).tickSize(0).tickPadding(16))
  .call(axisStyle, '#9da0a8', axisFont);
svg.append('g').attr('transform', 'translate(0,1470)')
  .call(d3.axisBottom(x).tickValues(timeTicks.map(day)).tickSize(0).tickPadding(0)
    .tickFormat((d) => (d.getUTCMonth() === 0 ? d3.utcFormat('%Y')(d) : d3.utcFormat('%b')(d))))
  .call(axisStyle, '#adb0b8', 18.5)
  .call((g) => g.selectAll('.tick text').attr('dy', '0.32em').attr('font-weight', (d) => (d.getUTCMonth() === 0 ? 700 : 400)));

// Pane separators
[1090, 1297].forEach((py) => svg.append('line').attr('x1', paneLeft).attr('x2', frameRight + 1).attr('y1', py + 0.5).attr('y2', py + 0.5)
  .attr('stroke', '#f4f4f4').attr('stroke-width', 1.8));

// Axis badges
const badge = (bx, by, bw, bh, fill, txt, tx, color) => {
  svg.append('rect').attr('x', bx).attr('y', by).attr('width', bw).attr('height', bh).attr('rx', 2).attr('fill', fill);
  svg.append('text').attr('x', tx).attr('y', by + bh / 2).attr('dy', '0.34em').attr('fill', color).attr('font-size', axisFont).text(txt);
};
badge(2252, y(allHigh) - 13.5, 55, 27, '#132a5f', 'High', 2261, '#e3e6ec');
badge(2308, y(allHigh) - 13.5, 136, 27, '#15306f', fmtP(allHigh), 2322, '#d5d9e2');
badge(2257, y(allLow) - 13.5, 50, 27, '#132a5f', 'Low', 2264, '#e3e6ec');
badge(2308, y(allLow) - 13.5, 136, 27, '#15306f', fmtP(allLow), 2322, '#d5d9e2');
svg.append('rect').attr('x', 2308).attr('y', 820).attr('width', 136).attr('height', 49).attr('rx', 2).attr('fill', '#f23645');
svg.append('text').attr('x', 2322).attr('y', y(lastPrice)).attr('dy', '0.34em').attr('fill', '#fff').attr('font-size', axisFont).text(fmtP(lastPrice));
svg.append('text').attr('x', 2322).attr('y', 855).attr('dy', '0.34em').attr('fill', '#ffd3d7').attr('font-size', axisFont).text('11:44:39');
badge(2308, 1198, 75, 27, '#fde72e', rsiValues[rsiValues.length - 1].toFixed(2), 2322, '#131722');
badge(2308, 1378, 137, 27, '#b2dfdb', fmtP(macdValues[macdValues.length - 1]), 2322, '#131722');

// Currency box, with a backing strip that cuts the top tick label
svg.append('rect').attr('x', 2308).attr('y', 44).attr('width', frameRight - 2308).attr('height', 50).attr('fill', '#181d29');
svg.append('rect').attr('x', 2313).attr('y', 48.5).attr('width', 144).attr('height', 41).attr('rx', 7).attr('fill', '#0e0e0f').attr('stroke', '#2a2e39').attr('stroke-width', 1.5);
svg.append('text').attr('x', 2327).attr('y', 69).attr('dy', '0.34em').attr('fill', '#e8e8e8').attr('font-size', 19).text('USDT');

// Legends
const legendColor = { label: '#b2b5be', value: '#e8334a' };
svg.append('g').selectAll('text').data(legendParts).join('text')
  .attr('x', (d) => d[1]).attr('y', 68).attr('dy', '0.34em').attr('font-size', 19)
  .attr('fill', (d) => legendColor[d[2]]).text((d) => d[0]);
svg.append('text').attr('x', 29).attr('y', 1116).attr('dy', '0.34em').attr('fill', '#b2b5be').attr('font-size', 19).text('RSI');
svg.append('text').attr('x', 70).attr('y', 1116).attr('dy', '0.34em').attr('fill', '#ffee35').attr('font-size', 19).text(rsiValues[rsiValues.length - 1].toFixed(2));
svg.append('text').attr('x', 29).attr('y', 1323).attr('dy', '0.34em').attr('fill', '#b2b5be').attr('font-size', 19).text('MACD');
svg.append('text').attr('x', 97).attr('y', 1323).attr('dy', '0.34em').attr('fill', '#b2dfdb').attr('font-size', 19).text(fmtP(macdValues[macdValues.length - 1]));

// Footer mark
const mark = svg.append('g').attr('fill', '#e2e2e2');
mark.append('path').attr('d', 'M19.5,1528H39.5V1552H29V1540H19.5Z');
mark.append('circle').attr('cx', 46).attr('cy', 1532.7).attr('r', 5);
mark.append('path').attr('d', 'M56.5,1528H67L59,1552H46.7Z');
svg.append('text').attr('x', 78).attr('y', 1552).attr('fill', '#e2e2e2').attr('font-size', 32.5).attr('font-weight', 600).attr('letter-spacing', -0.4).text('TradingView');
</script>
</body>
</html>
